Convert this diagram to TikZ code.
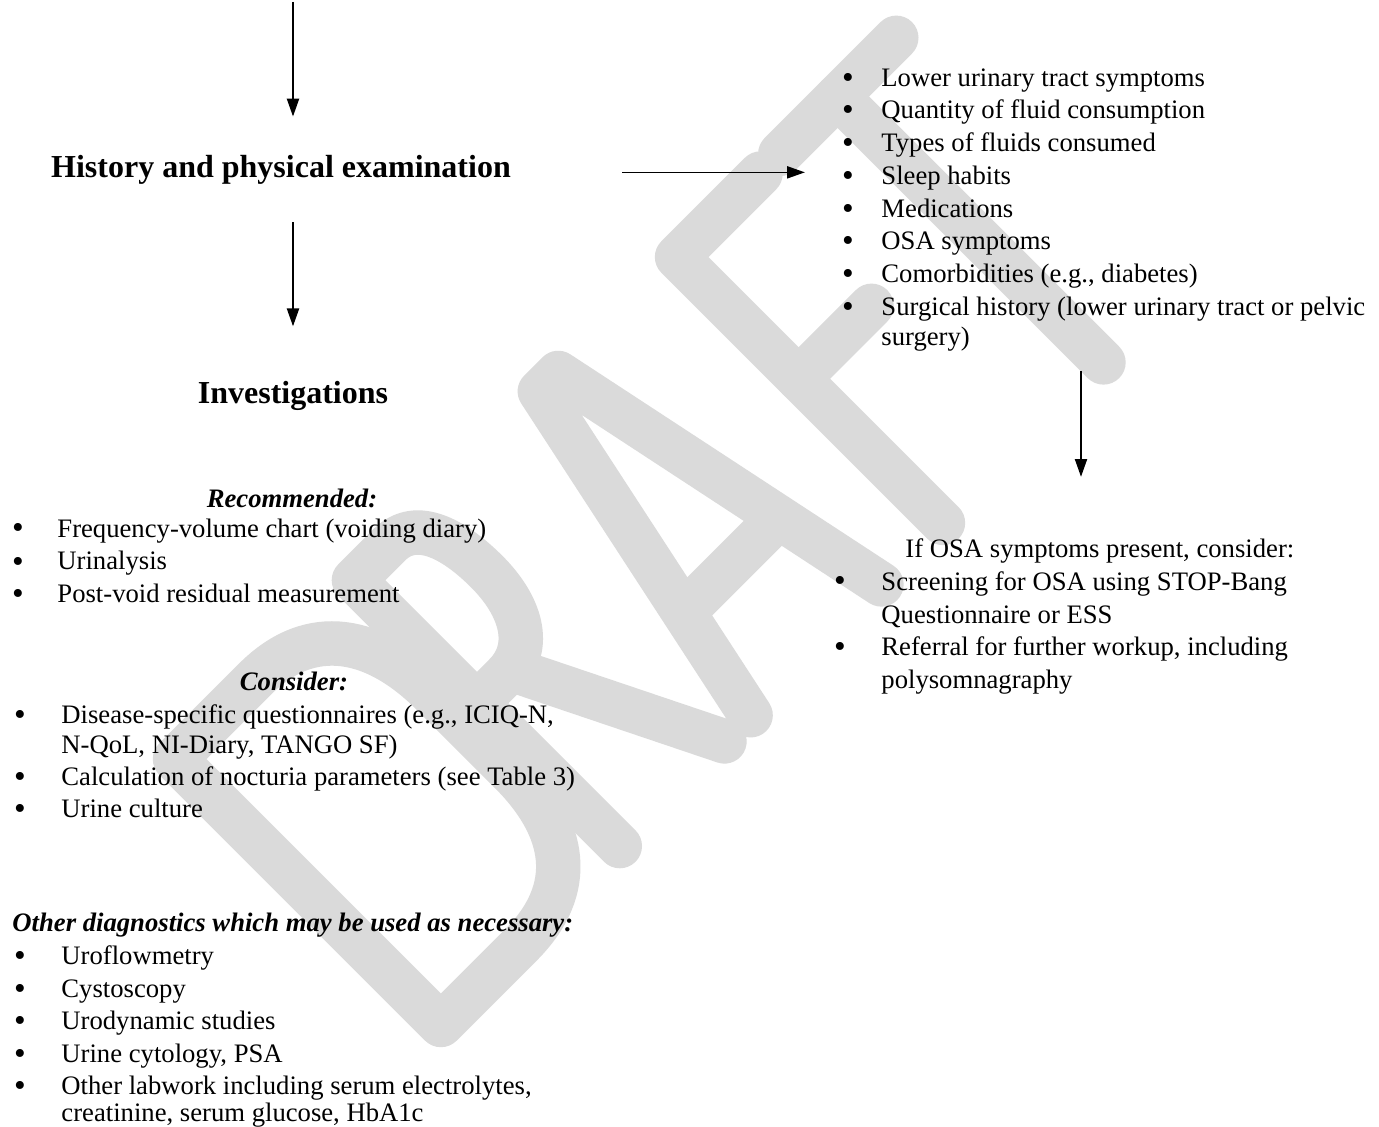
\documentclass[tikz,border=0pt]{standalone}
\usepackage{fontspec}
\setmainfont{Liberation Serif}
\usetikzlibrary{arrows.meta}
\definecolor{wmgray}{RGB}{218,218,218}
\begin{document}
\begin{tikzpicture}[x=0.45pt,y=-0.45pt,
  body/.style={inner sep=0pt, anchor=base west, font=\fontsize{12}{14}\selectfont},
  bul/.style={inner sep=0pt, anchor=base, font=\fontsize{15}{15}\selectfont},
  head/.style={inner sep=0pt, anchor=base, font=\fontsize{14.4}{16}\selectfont\bfseries},
  sub/.style={inner sep=0pt, anchor=base, font=\fontsize{12}{14}\selectfont\bfseries\itshape},
  arr/.style={line width=0.6pt, -{Triangle[length=8pt,width=5.5pt]}},
  wmstroke/.style={draw=wmgray, line width=20pt, line cap=round, line join=round}]
\useasboundingbox (0,0) rectangle (1379,1127);
\fill[white] (0,0) rectangle (1379,1127);
\clip (0,0) rectangle (1379,1127);

% DRAFT watermark (letters drawn as strokes in a frame rotated by 45 degrees)
\begin{scope}[shift={(740,740)}, x={(0.3182pt,0.3182pt)}, y={(-0.3182pt,0.3182pt)}]
  % D
  \path[wmstroke] (-413,10) -- (-413,386) -- (-300,386)
     .. controls (-220,386) and (-185,330) .. (-185,250) -- (-185,140)
     .. controls (-185,60) and (-220,10) .. (-300,10) -- cycle;
  % R
  \path[wmstroke] (-160,10) -- (-160,386) -- (-110,386)
     .. controls (-70,386) and (-60,340) .. (-60,298)
     .. controls (-60,250) and (-80,212) .. (-120,212) -- (-160,212);
  \path[wmstroke] (-112,212) -- (-12,10);
  % A
  \path[wmstroke] (25,10) -- (105,388) -- (131,388) -- (210,10);
  \path[wmstroke] (56,130) -- (180,130);
  % F
  \path[wmstroke] (297,10) -- (297,386) -- (415,386);
  \path[wmstroke] (297,214) -- (400,214);
  % T
  \path[wmstroke] (443,386) -- (607,386);
  \path[wmstroke] (524,386) -- (524,10);
\end{scope}

% headings
\node[head] (hist) at (281,178) {History and physical examination};
\node[head] (inv) at (293,404) {Investigations};

% right list
\node[bul] (rb1) at (848,89) {\textbullet};  \node[body] (r1) at (881,87) {Lower urinary tract symptoms};
\node[bul] (rb2) at (848,121) {\textbullet}; \node[body] (r2) at (881,119) {Quantity of fluid consumption};
\node[bul] (rb3) at (848,154) {\textbullet}; \node[body] (r3) at (881,152) {Types of fluids consumed};
\node[bul] (rb4) at (848,187) {\textbullet}; \node[body] (r4) at (881,185) {Sleep habits};
\node[bul] (rb5) at (848,220) {\textbullet}; \node[body] (r5) at (881,218) {Medications};
\node[bul] (rb6) at (848,252) {\textbullet}; \node[body] (r6) at (881,250) {OSA symptoms};
\node[bul] (rb7) at (848,285) {\textbullet}; \node[body] (r7) at (881,283) {Comorbidities (e.g., diabetes)};
\node[bul] (rb8) at (848,318) {\textbullet}; \node[body] (r8) at (881,316) {Surgical history (lower urinary tract or pelvic};
\node[body] (r8b) at (881,346) {surgery)};

% OSA block
\node[body] (osahead) at (905,558) {If OSA symptoms present, consider:};
\node[bul] (ob1) at (840,592) {\textbullet}; \node[body] (o1) at (881,590) {Screening for OSA using STOP-Bang};
\node[body] (o1b) at (881,623) {Questionnaire or ESS};
\node[bul] (ob2) at (840,657) {\textbullet}; \node[body] (o2) at (881,655) {Referral for further workup, including};
\node[body] (o2b) at (881,688) {polysomnagraphy};

% recommended
\node[sub] (rec) at (292,508) {Recommended:};
\node[bul] (lb1) at (18,539) {\textbullet}; \node[body] (l1) at (57,537) {Frequency-volume chart (voiding diary)};
\node[bul] (lb2) at (18,572) {\textbullet}; \node[body] (l2) at (57,570) {Urinalysis};
\node[bul] (lb3) at (18,604) {\textbullet}; \node[body] (l3) at (57,602) {Post-void residual measurement};

% consider
\node[sub] (con) at (294,690) {Consider:};
\node[bul] (cb1) at (20,725) {\textbullet}; \node[body] (c1) at (61,723) {Disease-specific questionnaires (e.g., ICIQ-N,};
\node[body] (c1b) at (61,753) {N-QoL, NI-Diary, TANGO SF)};
\node[bul] (cb2) at (20,787) {\textbullet}; \node[body] (c2) at (61,785) {Calculation of nocturia parameters (see Table 3)};
\node[bul] (cb3) at (20,819) {\textbullet}; \node[body] (c3) at (61,817) {Urine culture};

% other diagnostics
\node[sub, anchor=base west] (oth) at (12,931) {Other diagnostics which may be used as necessary:};
\node[bul] (db1) at (20,966) {\textbullet};  \node[body] (d1) at (61,964) {Uroflowmetry};
\node[bul] (db2) at (20,999) {\textbullet};  \node[body] (d2) at (61,997) {Cystoscopy};
\node[bul] (db3) at (20,1031) {\textbullet}; \node[body] (d3) at (61,1029) {Urodynamic studies};
\node[bul] (db4) at (20,1064) {\textbullet}; \node[body] (d4) at (61,1062) {Urine cytology, PSA};
\node[bul] (db5) at (20,1096) {\textbullet}; \node[body] (d5) at (61,1094) {Other labwork including serum electrolytes,};
\node[body] (d5b) at (61,1121) {creatinine, serum glucose, HbA1c};

% connectors
\coordinate (topin) at (293,2);
\coordinate (a3s) at (1081,371);
\draw[arr, shorten >=17.5pt] (topin) -- (topin |- hist.north);
\draw[arr, shorten <=16.6pt, shorten >=24.8pt] (topin |- hist.south) -- (topin |- inv.north);
\draw[arr, shorten <=50pt, shorten >=16.6pt] ([yshift=-0.9pt]hist.east) -- ([yshift=-0.9pt]hist.east -| rb4.west);
\draw[arr, shorten >=27.9pt] (a3s) -- (a3s |- osahead.north);
\end{tikzpicture}
\end{document}
